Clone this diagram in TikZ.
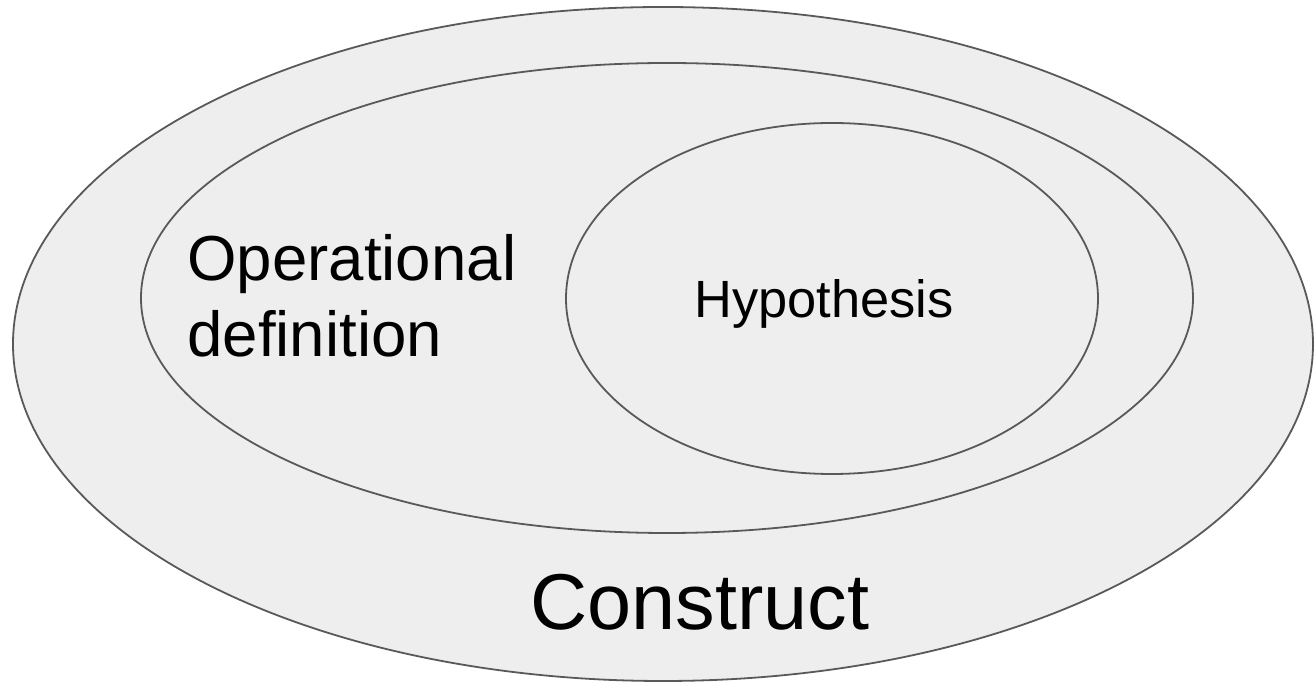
\documentclass[tikz,border=0pt]{standalone}
\usepackage{fontspec}
\setmainfont{Liberation Sans}
\usepackage{xcolor}
\definecolor{ringfill}{HTML}{EEEEEE}
\definecolor{ringline}{HTML}{595959}
\tikzset{
	ring/.style={fill=ringfill, draw=ringline, line width=0.9pt},
	label/.style={inner sep=0pt, text=black, align=left}
}
\begin{document}
\begin{tikzpicture}[x=0.5pt, y=-0.5pt]
			\useasboundingbox (0,0) rectangle (1314,683);

			% Ellipses
			\draw[ring] (663,344) ellipse [x radius=650, y radius=337];
			\draw[ring] (667,298) ellipse [x radius=526, y radius=235];
			\draw[ring] (832,298.5) ellipse [x radius=266, y radius=175.5];

			% Labels
			\node[label, anchor=base west, font=\fontsize{31.8}{38}\selectfont] (opdef) at (187,357) {Operational\\definition};
			\node[label, anchor=base west, font=\fontsize{26.2}{30}\selectfont] (hypothesis) at (694,318) {Hypothesis};
			\node[label, anchor=base west, font=\fontsize{39.6}{46}\selectfont] (construct) at (530,630) {Construct};
		\end{tikzpicture}
\end{document}
